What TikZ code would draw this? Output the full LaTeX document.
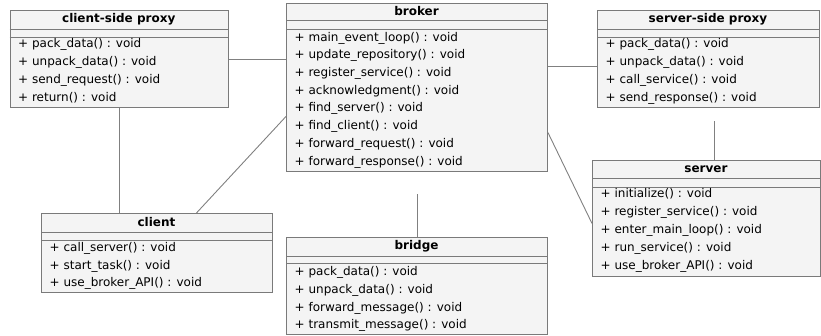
\documentclass[tikz,border=0pt]{standalone}
\usepackage{fontspec}
\setmainfont{DejaVu Sans}
\definecolor{boxfill}{HTML}{F4F4F4}
\definecolor{boxgray}{HTML}{7A7A7A}
\definecolor{linegray}{HTML}{808080}
\tikzset{
  umlbox/.style={draw=boxgray, fill=boxfill, line width=0.9pt, rectangle, inner sep=0pt, anchor=north west},
  umltitle/.style={font=\fontsize{12}{14}\selectfont\bfseries, inner sep=0pt, anchor=center},
  method/.style={font=\fontsize{12}{14}\selectfont, inner sep=0pt, anchor=west},
  sepline/.style={draw=boxgray, line width=0.9pt},
  link/.style={draw=linegray, line width=0.9pt}
}
\begin{document}
\begin{tikzpicture}[x=1pt, y=-1pt]
  \useasboundingbox (0,0) rectangle (821,335);

  % client-side proxy
  \node[umlbox, minimum width=218.5pt, minimum height=97pt] (cp) at (9.5,10) {};
  \node[umltitle] (cpT) at (118.75,19.5) {client-side proxy};
  \draw[sepline] (cp.west |- 0,29) -- (cp.east |- 0,29);
  \draw[sepline] (cp.west |- 0,37) -- (cp.east |- 0,37);
  \node[method] (cp1) at (18,44) {+ pack\_data() : void};
  \node[method] (cp2) at (18,62) {+ unpack\_data() : void};
  \node[method] (cp3) at (18,80) {+ send\_request() : void};
  \node[method] (cp4) at (18,98) {+ return() : void};

  % broker
  \node[umlbox, minimum width=261pt, minimum height=168pt] (br) at (286,3) {};
  \node[umltitle] (brT) at (416.5,11.5) {broker};
  \draw[sepline] (br.west |- 0,20) -- (br.east |- 0,20);
  \draw[sepline] (br.west |- 0,29) -- (br.east |- 0,29);
  \node[method] (br1) at (294.5,38) {+ main\_event\_loop() : void};
  \node[method] (br2) at (294.5,55.7) {+ update\_repository() : void};
  \node[method] (br3) at (294.5,73.4) {+ register\_service() : void};
  \node[method] (br4) at (294.5,91.1) {+ acknowledgment() : void};
  \node[method] (br5) at (294.5,108.8) {+ find\_server() : void};
  \node[method] (br6) at (294.5,126.5) {+ find\_client() : void};
  \node[method] (br7) at (294.5,144.2) {+ forward\_request() : void};
  \node[method] (br8) at (294.5,161.9) {+ forward\_response() : void};

  % server-side proxy
  \node[umlbox, minimum width=222pt, minimum height=97pt] (sp) at (597,10) {};
  \node[umltitle] (spT) at (708,19.5) {server-side proxy};
  \draw[sepline] (sp.west |- 0,29) -- (sp.east |- 0,29);
  \draw[sepline] (sp.west |- 0,37) -- (sp.east |- 0,37);
  \node[method] (sp1) at (605.5,44) {+ pack\_data() : void};
  \node[method] (sp2) at (605.5,62) {+ unpack\_data() : void};
  \node[method] (sp3) at (605.5,80) {+ call\_service() : void};
  \node[method] (sp4) at (605.5,98) {+ send\_response() : void};

  % client
  \node[umlbox, minimum width=231pt, minimum height=79pt] (cl) at (41,213) {};
  \node[umltitle] (clT) at (156.5,222.5) {client};
  \draw[sepline] (cl.west |- 0,232) -- (cl.east |- 0,232);
  \draw[sepline] (cl.west |- 0,240) -- (cl.east |- 0,240);
  \node[method] (cl1) at (49.5,248) {+ call\_server() : void};
  \node[method] (cl2) at (49.5,266) {+ start\_task() : void};
  \node[method] (cl3) at (49.5,283.5) {+ use\_broker\_API() : void};

  % bridge
  \node[umlbox, minimum width=261pt, minimum height=96.5pt] (bg) at (286,237) {};
  \node[umltitle] (bgT) at (416.5,246.5) {bridge};
  \draw[sepline] (bg.west |- 0,256) -- (bg.east |- 0,256);
  \draw[sepline] (bg.west |- 0,263.5) -- (bg.east |- 0,263.5);
  \node[method] (bg1) at (294.5,272) {+ pack\_data() : void};
  \node[method] (bg2) at (294.5,290) {+ unpack\_data() : void};
  \node[method] (bg3) at (294.5,308) {+ forward\_message() : void};
  \node[method] (bg4) at (294.5,325.5) {+ transmit\_message() : void};

  % server
  \node[umlbox, minimum width=228pt, minimum height=116pt] (sv) at (592,160) {};
  \node[umltitle] (svT) at (706,169) {server};
  \draw[sepline] (sv.west |- 0,178) -- (sv.east |- 0,178);
  \draw[sepline] (sv.west |- 0,187) -- (sv.east |- 0,187);
  \node[method] (sv1) at (600.5,194) {+ initialize() : void};
  \node[method] (sv2) at (600.5,212) {+ register\_service() : void};
  \node[method] (sv3) at (600.5,230) {+ enter\_main\_loop() : void};
  \node[method] (sv4) at (600.5,248) {+ run\_service() : void};
  \node[method] (sv5) at (600.5,266) {+ use\_broker\_API() : void};

  % associations
  \draw[link] (cp.east) -- (cp.east -| br.west);
  \coordinate (bsp) at ([yshift=-7.5pt]sp.west);
  \draw[link] (bsp -| br.east) -- (bsp);
  \draw[link] (cp.south) -- (cp.south |- cl.north);
  \draw[link] ([xshift=39.5pt]cl.north) -- ([yshift=-29pt]br.west);
  \draw[link] ([yshift=-45pt]br.east) -- ([yshift=-5pt]sv.west);
  \coordinate (bgtop) at ([yshift=43pt]bg.north);
  \draw[link] (bg.north) -- (bgtop);
  \coordinate (svtop) at ([xshift=7.5pt,yshift=39pt]sv.north);
  \draw[link] ([xshift=7.5pt]sv.north) -- (svtop);
\end{tikzpicture}
\end{document}
